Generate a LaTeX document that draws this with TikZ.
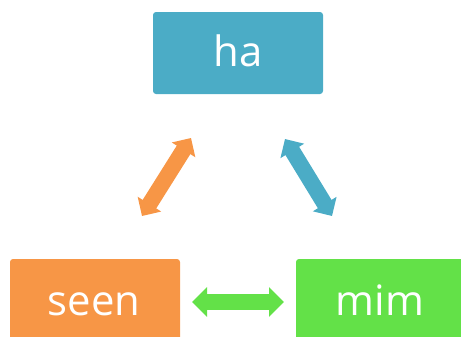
\documentclass[tikz,border=0pt]{standalone}
\usepackage{fontspec}
\setmainfont{Open Sans}
\usetikzlibrary{arrows.meta}
\definecolor{cblue}{RGB}{75,172,198}
\definecolor{corange}{RGB}{247,150,70}
\definecolor{cgreen}{RGB}{99,225,72}
\begin{document}
\begin{tikzpicture}[x=1bp,y=-1bp,
  box/.style={draw=none,rounded corners=3bp},
  lbl/.style={text=white,font=\fontsize{42}{48}\selectfont,inner sep=0pt,anchor=base},
  dblarrow/.style={line width=16bp,{Triangle[width=29bp,length=15bp]}-{Triangle[width=29bp,length=15bp]}},
  diagarrow/.style={line width=16bp,{Triangle[width=27bp,length=14bp]}-{Triangle[width=27bp,length=14bp]}}]
\useasboundingbox (0,0) rectangle (461,336);
\clip (0,0) rectangle (461,336);
\fill[box,cblue] (153,12) rectangle (323,94);
\fill[box,corange] (10,259) rectangle (180,342);
\fill[box,cgreen] (296,259) rectangle (466,342);
\node[lbl] (ha) at (238,66) {ha};
\node[lbl] (seen) at (94,315) {seen};
\node[lbl] (mim) at (380,315) {mim};
\coordinate (o1) at (142,216);
\coordinate (o2) at (191,138);
\coordinate (b1) at (285,139);
\coordinate (b2) at (332,216);
\coordinate (g1) at (192,302);
\coordinate (g2) at (284,302);
\draw[diagarrow,corange] (o1) -- (o2);
\draw[diagarrow,cblue] (b1) -- (b2);
\draw[dblarrow,cgreen] (g1) -- (g2);
\end{tikzpicture}
\end{document}
